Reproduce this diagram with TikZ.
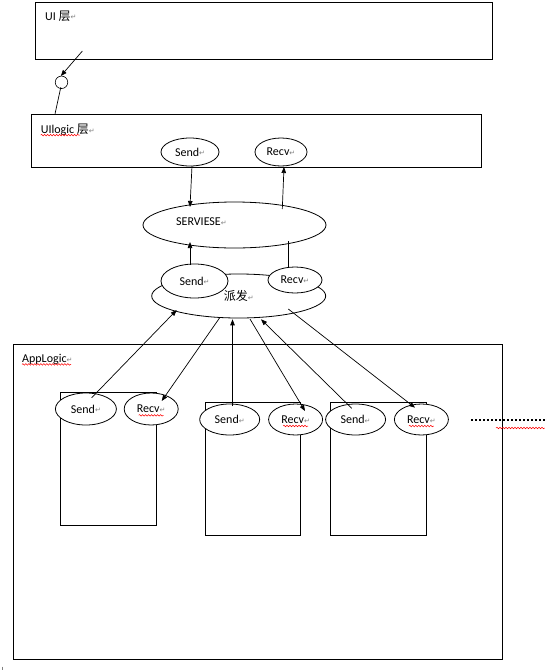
\documentclass[tikz,border=0pt]{standalone}
\usepackage{fontspec}
\setmainfont{Carlito}
\newfontfamily\cjk{Noto Sans CJK SC}
\newfontfamily\dejavu{DejaVu Sans}
\usetikzlibrary{shapes.geometric,arrows.meta,calc,decorations.pathmorphing}
\newcommand{\pmark}{{\dejavu\fontsize{7}{7}\selectfont\color{gray}\raisebox{0.3pt}{↵}}}
\begin{document}
\begin{tikzpicture}[x=1pt,y=-1pt,
  every node/.style={font=\fontsize{12}{14}\selectfont},
  box/.style={draw, rectangle, line width=1.1pt, inner sep=0},
  ell/.style={draw, ellipse, line width=0.8pt, fill=white, inner sep=0},
  arr/.style={line width=0.7pt, -{Triangle[length=6pt,width=4.5pt]}},
  con/.style={line width=0.7pt},
  spell/.style={red, line width=0.5pt, decorate, decoration={snake, amplitude=0.8pt, segment length=3pt}},
  lbl/.style={anchor=base west, inner sep=0},
]
\useasboundingbox (0,0) rectangle (545,670);

% layer boxes
\node[box, minimum width=456.8pt, minimum height=57pt] (ui) at (263.9,30.8) {};
\node[box, minimum width=450pt, minimum height=53pt] (uil) at (256.3,140.8) {};
\node[box, minimum width=489.1pt, minimum height=315pt] (app) at (257.75,501.8) {};
\node[box, minimum width=96pt, minimum height=133pt] (b1) at (108.5,458.8) {};
\node[box, minimum width=95.2pt, minimum height=133pt] (b2) at (253.1,468.8) {};
\node[box, minimum width=96.6pt, minimum height=133pt] (b3) at (378.5,468.8) {};

% labels
\node[lbl] (uit) at (45,20) {UI {\cjk 层}\pmark};
\node[lbl] (uilt) at (40.7,133.3) {UIlogic {\cjk 层}\pmark};
\node[lbl] (appt) at (22,362.7) {AppLogic\pmark};

% small circle
\node[draw, circle, line width=0.6pt, minimum size=12.5pt, inner sep=0] (circ) at (61.5,82.3) {};
\coordinate (uiout) at (82.4,51);

% UIlogic send/recv
\node[ell, minimum width=58pt, minimum height=28pt] (usend) at (190,152) {Send\pmark};
\node[ell, minimum width=52pt, minimum height=28pt] (urecv) at (281,152) {Recv\pmark};

% SERVIESE
\node[ell, minimum width=183pt, minimum height=46pt] (serv) at (234.5,225) {};
\node[lbl] (servt) at (176,225.7) {SERVIESE\pmark};

% dispatch
\node[ell, minimum width=174pt, minimum height=44pt] (pf) at (238.7,296) {{\cjk 派发}\pmark};
\node[ell, minimum width=67pt, minimum height=34pt] (psend) at (194.5,281) {Send\pmark};
\node[ell, minimum width=54pt, minimum height=26pt] (precv) at (295,280) {Recv\pmark};

% AppLogic send/recv
\node[ell, minimum width=61pt, minimum height=32pt] (as1) at (85.9,409) {Send\pmark};
\node[ell, minimum width=54pt, minimum height=32pt] (ar1) at (151.2,409) {Recv\pmark};
\node[ell, minimum width=60pt, minimum height=31pt] (as2) at (229.7,419.5) {Send\pmark};
\node[ell, minimum width=54pt, minimum height=31pt] (ar2) at (295.6,419.5) {Recv\pmark};
\node[ell, minimum width=60pt, minimum height=31pt] (as3) at (355.6,419.5) {Send\pmark};
\node[ell, minimum width=54pt, minimum height=31pt] (ar3) at (421.4,419.5) {Recv\pmark};

% connectors
\draw[arr] (uiout) -- ($(circ)+(-0.7,-6.3)$);
\draw[con] ($(circ)+(-0.7,5)$) -- ($(uil.north west)+(24.3,0)$);
\draw[arr] ($(usend)+(2,14)$) -- ($(serv)+(-44.5,-18)$);
\draw[arr] ($(serv)+(47.8,-16)$) -- ($(urecv)+(3,15)$);
\draw[arr] ($(psend)+(-4.5,-16)$) -- ($(serv)+(-44.5,17)$);
\draw[con] ($(precv)+(-7,-13)$) -- ($(serv)+(53.5,16)$);
\draw[arr] ($(as1)+(5.8,-11.3)$) -- ($(pf)+(-62,14)$);
\draw[arr] ($(pf)+(-18.7,21.3)$) -- ($(ar1)+(10.5,-8)$);
\draw[arr] ($(as2)+(2.8,-13.5)$) -- ($(pf)+(-6.2,23.3)$);
\draw[arr] ($(pf)+(11.3,23)$) -- ($(ar2)+(9.4,-8.5)$);
\draw[arr] ($(as3)+(-3.9,-11.2)$) -- ($(pf)+(22.3,23.3)$);
\draw[arr] ($(pf)+(49.6,13)$) -- ($(ar3)+(-6.4,-11.8)$);

% dotted continuation
\coordinate (dots1) at (471,420);
\coordinate (dots2) at (545,420);
\draw[line width=2pt, dash pattern=on 2pt off 2pt] (dots1) -- (dots2);

% spell-check underlines
\draw[spell] ($(uilt.base west)+(0,1.8)$) -- ($(uilt.base west)+(39.3,1.8)$);
\draw[spell] ($(appt.base west)+(0,1.7)$) -- ($(appt.base west)+(49,1.7)$);
\draw[spell] ($(ar1)+(-12.5,6.3)$) -- ($(ar1)+(12.5,6.3)$);
\draw[spell] ($(ar2)+(-12.5,6.5)$) -- ($(ar2)+(12.5,6.5)$);
\draw[spell] ($(ar3)+(-12.5,6.5)$) -- ($(ar3)+(12.5,6.5)$);
\draw[spell] ($(dots1)+(25,8)$) -- ($(dots2)+(0,8)$);

% cursor tick
\draw[gray, line width=0.6pt] (2.7,666.5) -- (2.7,670);
\end{tikzpicture}
\end{document}
